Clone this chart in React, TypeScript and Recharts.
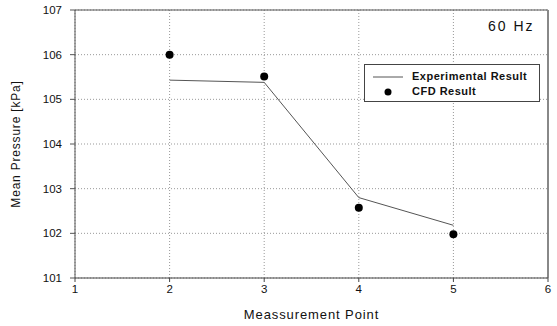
import { ComposedChart, Line, Scatter, XAxis, YAxis, CartesianGrid, Legend, ReferenceLine } from 'recharts'

const points = [2, 3, 4, 5]
const experimental = [105.43, 105.38, 102.8, 102.18]
const cfd = [106.0, 105.51, 102.57, 101.98]
const xTicks = [1, 2, 3, 4, 5, 6]
const yTicks = [101, 102, 103, 104, 105, 106, 107]

const data = points.map((p, i) => ({ x: p, exp: experimental[i], cfd: cfd[i] }))

const font = '"Liberation Sans", Arial, sans-serif'

const Dot = (props: any) => {
  const { cx, cy } = props
  if (cx == null || cy == null) return null
  return <circle cx={cx} cy={cy} r={4} fill="#000" />
}

const LegendBox = () => (
  <div
    style={{
      width: 176,
      height: 38,
      border: '1px solid #444',
      background: '#fff',
      boxSizing: 'border-box',
      position: 'relative',
      fontFamily: font,
      fontSize: 11,
      fontWeight: 'bold',
      letterSpacing: 0.5,
      color: '#111',
    }}
  >
    <svg width={176} height={38} style={{ position: 'absolute', left: -1, top: -1 }}>
      <line x1={9} x2={39} y1={13} y2={13} stroke="#555" strokeWidth={1} />
      <circle cx={24} cy={28} r={3.5} fill="#000" />
    </svg>
    <div style={{ position: 'absolute', left: 47, top: 5, lineHeight: '13px' }}>Experimental Result</div>
    <div style={{ position: 'absolute', left: 47, top: 20, lineHeight: '13px' }}>CFD Result</div>
  </div>
)

export default function App() {
  return (
    <div style={{ position: 'absolute', left: 0, top: 0, width: 557, height: 326, background: '#fff' }}>
      <ComposedChart width={557} height={326} data={data} margin={{ top: 10, right: 9, bottom: 0, left: 0 }}>
        <CartesianGrid stroke="#999" strokeDasharray="1 2" />
        <XAxis
          dataKey="x"
          type="number"
          domain={[1, 6]}
          ticks={xTicks}
          height={48}
          tickSize={4}
          tickMargin={3}
          stroke="#444"
          tick={{ fill: '#111', fontSize: 11.5, fontFamily: font }}
          label={{
            value: 'Meassurement Point',
            position: 'insideBottom',
            offset: 7,
            style: { fill: '#111', fontSize: 13, fontFamily: font, letterSpacing: 0.9 },
          }}
        />
        <YAxis
          type="number"
          domain={[101, 107]}
          ticks={yTicks}
          width={75}
          tickSize={5}
          tickMargin={8}
          stroke="#555"
          tick={{ fill: '#111', fontSize: 11.5, fontFamily: font }}
          label={{
            value: 'Mean Pressure [kPa]',
            angle: -90,
            position: 'insideLeft',
            offset: 16,
            style: { textAnchor: 'middle', fill: '#111', fontSize: 12, fontFamily: font, letterSpacing: 0.8 },
          }}
        />
        <ReferenceLine y={107} stroke="#555" strokeWidth={1} />
        <ReferenceLine x={6} stroke="#888" strokeWidth={2} />
        <Legend
          layout="horizontal"
          verticalAlign="middle"
          align="center"
          content={<LegendBox />}
          wrapperStyle={{ left: 364, top: 64, width: 176, height: 38 }}
        />
        <Line
          dataKey="exp"
          name="Experimental Result"
          stroke="#555"
          strokeWidth={1}
          dot={false}
          activeDot={false}
          isAnimationActive={false}
        />
        <Scatter dataKey="cfd" name="CFD Result" fill="#000" shape={<Dot />} isAnimationActive={false} />
      </ComposedChart>
      <div
        style={{
          position: 'absolute',
          left: 488,
          top: 18,
          fontFamily: font,
          fontSize: 14,
          letterSpacing: 2,
          color: '#111',
        }}
      >
        60 Hz
      </div>
    </div>
  )
}
